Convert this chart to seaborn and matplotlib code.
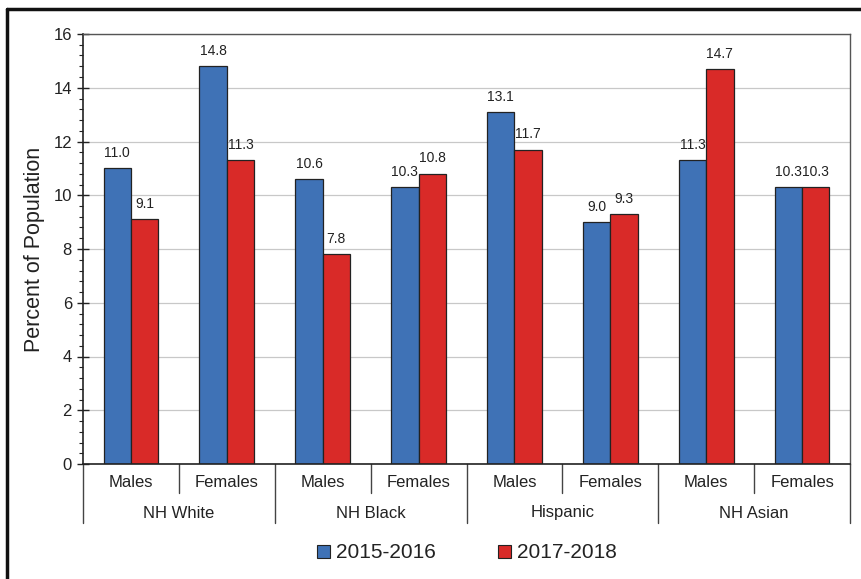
import matplotlib
matplotlib.use("Agg")
import matplotlib.pyplot as plt
import seaborn as sns
import pandas as pd
from matplotlib.lines import Line2D
from matplotlib.patches import Patch
from matplotlib.ticker import MultipleLocator

groups = ["NH White", "NH Black", "Hispanic", "NH Asian"]
sexes = ["Males", "Females"]
years = ["2015-2016", "2017-2018"]
vals_2015 = [11.0, 14.8, 10.6, 10.3, 13.1, 9.0, 11.3, 10.3]
vals_2017 = [9.1, 11.3, 7.8, 10.8, 11.7, 9.3, 14.7, 10.3]
colors = ["#3f72b6", "#d92a28"]

cats = [f"{g} {s}" for g in groups for s in sexes]
df = pd.DataFrame({
    "cat": cats * 2,
    "year": [years[0]] * 8 + [years[1]] * 8,
    "value": vals_2015 + vals_2017,
})

sns.set_theme(style="white")
plt.rcParams["font.family"] = ["Liberation Sans", "DejaVu Sans"]
txt = "#222222"

fig = plt.figure(figsize=(8.61, 5.79), dpi=100)
ax = fig.add_axes([83/861, 1-464/579, (850-83)/861, (464-34)/579])

sns.barplot(data=df, x="cat", y="value", hue="year", order=cats, hue_order=years,
            palette=colors, width=0.57, edgecolor="#222222", linewidth=0.9,
            ax=ax, legend=False, saturation=1)

for cont in ax.containers:
    ax.bar_label(cont, fmt="%.1f", padding=6, fontsize=10, color=txt)

ax.set_ylim(0, 16)
ax.set_xlim(-0.5, 7.5)
ax.yaxis.set_major_locator(MultipleLocator(2))
ax.yaxis.set_minor_locator(MultipleLocator(0.4))
ax.tick_params(axis="y", which="major", direction="inout", length=8, width=1,
               color="#222222", labelsize=12, labelcolor=txt, left=True, pad=4)
ax.tick_params(axis="y", which="minor", direction="out", length=3, width=0.8,
               color="#222222", left=True)
ax.yaxis.grid(True, which="major", color="#c8c8c8", linewidth=0.9)
ax.set_axisbelow(True)
for s in ["top", "right"]:
    ax.spines[s].set_color("#555555")
    ax.spines[s].set_linewidth(1)
for s in ["left", "bottom"]:
    ax.spines[s].set_color("#222222")
    ax.spines[s].set_linewidth(1.2)

ax.set_ylabel("Percent of Population", fontsize=15.5, color=txt, labelpad=6)
ax.set_xlabel("")
ax.set_xticks(range(8))
ax.set_xticklabels(sexes * 4, fontsize=12, color=txt)
ax.tick_params(axis="x", length=0, pad=8)

trans = ax.get_xaxis_transform()
y_short = -29/430
y_long = -59/430
for i in range(9):
    x = i - 0.5
    y_end = y_long if i % 2 == 0 else y_short
    ax.plot([x, x], [0, y_end], transform=trans, color="#444444", lw=1, clip_on=False)
for gi, g in enumerate(groups):
    ax.text(gi * 2 + 0.5, -49/430, g, transform=trans, ha="center", va="center",
            fontsize=12, color=txt)

handles = [Patch(facecolor=c, edgecolor="#222222", linewidth=0.8) for c in colors]
fig.legend(handles, years, loc="center", bbox_to_anchor=(467/861, 1-553/579),
           ncol=2, frameon=False, fontsize=15, handlelength=0.6, handleheight=0.6,
           handletextpad=0.3, columnspacing=3.0, labelcolor=txt)

fig.add_artist(Line2D([7/861, 7/861], [0, 1-9/579], transform=fig.transFigure,
                      color="#111111", lw=2.5))
fig.add_artist(Line2D([7/861, 1], [1-9/579, 1-9/579], transform=fig.transFigure,
                      color="#111111", lw=2.5))

fig.savefig("out.png", dpi=100)
